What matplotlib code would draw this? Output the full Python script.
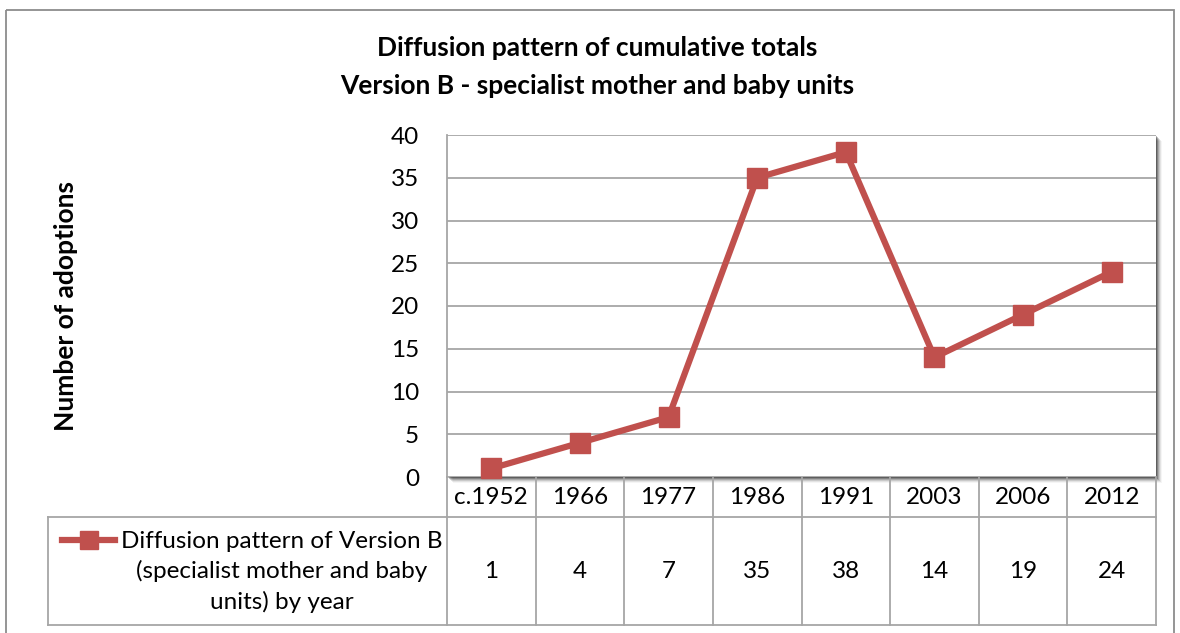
import matplotlib.pyplot as plt
from matplotlib.patches import Rectangle

plt.rcParams['font.family'] = ['Lato', 'DejaVu Sans']

# chart data
years = ['c.1952', '1966', '1977', '1986', '1991', '2003', '2006', '2012']
adoptions = [1, 4, 7, 35, 38, 14, 19, 24]
series_name = 'Diffusion pattern of Version B\n(specialist mother and baby\nunits) by year'
title = 'Diffusion pattern of cumulative totals\nVersion B - specialist mother and baby units'
y_ticks = [0, 5, 10, 15, 20, 25, 30, 35, 40]

red = '#C0504D'
grid_grey = '#A6A6A6'
W, H = 1180, 633

fig = plt.figure(figsize=(W / 100, H / 100), dpi=100)

# overlay in pixel coordinates for the frame and data table
ov = fig.add_axes([0, 0, 1, 1])
ov.set_xlim(0, W)
ov.set_ylim(H, 0)
ov.axis('off')

# plot area in pixels
px0, px1, py0, py1 = 447, 1156, 135, 477


def fx(x):
    return x / W


def fy(y):
    return 1 - y / H


# outer chart border
ov.add_patch(Rectangle((6, 10), 1168, 640, fill=False, edgecolor='#8C8C8C', lw=1.3))

# soft shadow behind the plot area
for k, a in zip(range(1, 7), [0.28, 0.22, 0.16, 0.11, 0.07, 0.04]):
    ov.add_patch(Rectangle((px0 + k, py0 + k), px1 - px0, py1 - py0,
                           facecolor='black', edgecolor='none', alpha=a, zorder=1))

ax = fig.add_axes([fx(px0), fy(py1), fx(px1 - px0), (py1 - py0) / H])
ax.set_zorder(2)
ax.set_facecolor('white')
x = list(range(len(years)))
ax.plot(x, adoptions, color=red, lw=4.5, marker='s', markersize=14,
        markerfacecolor=red, markeredgecolor=red, clip_on=False, zorder=3)
ax.set_xlim(-0.5, len(years) - 0.5)
ax.set_ylim(0, 40)
ax.set_yticks(y_ticks)
ax.set_yticklabels([str(t) for t in y_ticks], fontsize=17.5)
ax.tick_params(axis='y', length=0, pad=20)
ax.set_xticks([])
for t in y_ticks:
    ax.axhline(t, color=grid_grey, lw=1.3, zorder=1)
for s in ['top', 'right', 'bottom']:
    ax.spines[s].set_visible(False)
ax.spines['left'].set_color(grid_grey)
ax.spines['left'].set_linewidth(1.3)

ax.set_ylabel('Number of adoptions', fontsize=19, fontweight='bold', labelpad=0)
ax.yaxis.set_label_coords((78 - px0) / (px1 - px0), 0.5)

fig.text(0.506, fy(67), title, ha='center', va='center', fontsize=19,
         fontweight='bold', linespacing=1.7)

# data table under the axis
col_w = (px1 - px0) / len(years)
hdr_bot = 517
row_bot = 625
lk = dict(color=grid_grey, lw=1.3, zorder=4)
ov.plot([48, px1], [hdr_bot, hdr_bot], **lk)
ov.plot([48, px1], [row_bot, row_bot], **lk)
ov.plot([48, 48], [hdr_bot, row_bot], **lk)
for i in range(len(years) + 1):
    xi = px0 + i * col_w
    ov.plot([xi, xi], [py1, row_bot], **lk)
for i, (yr, v) in enumerate(zip(years, adoptions)):
    xc = px0 + (i + 0.5) * col_w
    ov.text(xc, 497, yr, ha='center', va='center', fontsize=17.5)
    ov.text(xc, 572, str(v), ha='center', va='center', fontsize=17.5)

# legend key inside the table
ov.plot([62, 115], [540, 540], color=red, lw=4.5, zorder=5)
ov.plot([88.5], [540], marker='s', markersize=13, color=red, zorder=5)
ov.text(282, 572, series_name, ha='center', va='center', fontsize=17.5,
        linespacing=1.45)

fig.savefig('out.png', dpi=100)
